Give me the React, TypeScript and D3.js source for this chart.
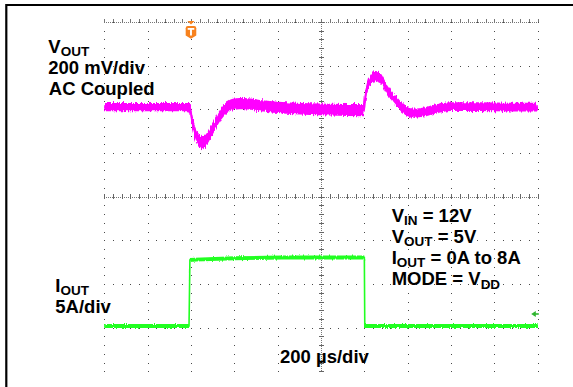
import React from 'react';
import * as d3 from 'd3';

const W = 573;
const H = 387;

// Scope graticule: 10 horizontal divisions (200 µs/div), 8 vertical divisions
const timeDivCount = 10;
const levelDivCount = 8;
const usPerDiv = 200;

// Channel 1: VOUT (AC coupled), 200 mV/div
const vOutTimeUs = [0, 392, 396, 405, 418, 437, 451, 469, 497, 529, 562, 598, 649, 718, 857, 1042, 1198, 1204, 1212, 1231, 1249, 1273, 1305, 1351, 1388, 1429, 1480, 1535, 1595, 1734, 1872, 2000];
const vOutMv = [0, 0, -5, -60, -114, -151, -165, -151, -105, -46, -5, 14, 16, 7, -5, -11, -14, 41, 87, 128, 142, 133, 82, 23, -14, -27, -21, -7, 2, 2, 0, 0];
const vOutNoiseMv = [38, 38, 42, 48, 55, 56, 56, 55, 52, 52, 52, 52, 52, 52, 52, 54, 56, 52, 50, 48, 48, 48, 46, 44, 42, 42, 42, 42, 40, 40, 40, 40];
const vOutMvPerDiv = 200;
const vOutPositionDiv = 2.05;

// Channel 2: IOUT, 5 A/div
const iOutTimeUs = [0, 391, 395, 420, 600, 820, 1200, 1202, 2000];
const iOutAmp = [0, 0, 7.55, 7.6, 7.75, 7.84, 7.84, 0, 0];
const iOutNoiseAmp = [0.45, 0.45, 0.45, 0.45, 0.45, 0.45, 0.45, 0.45, 0.45];
const iOutAmpPerDiv = 5;
const iOutPositionDiv = -2.96;

const triggerTimeUs = 400;

const leftLabels = {
  vout: ['V', 'OUT'],
  voutScale: '200 mV/div',
  voutCoupling: 'AC Coupled',
  iout: ['I', 'OUT'],
  ioutScale: '5A/div',
};
const timeLabel = '200 µs/div';

const MAGENTA = '#ff00ff';
const GREEN = '#22ff22';
const FONT = '"Liberation Sans", Arial, Helvetica, sans-serif';
const BIG = 18.5;
const SUB = 13.5;

export default function App() {
  const xDiv = d3.scaleLinear().domain([0, timeDivCount]).range([104.3, 537.7]);
  const yDiv = d3.scaleLinear().domain([-levelDivCount / 2, levelDivCount / 2]).range([371.4, 22]);
  const xTime = d3.scaleLinear().domain([0, timeDivCount * usPerDiv]).range(xDiv.range());

  const vY = (mv: number) => yDiv(vOutPositionDiv + mv / vOutMvPerDiv);
  const iY = (a: number) => yDiv(iOutPositionDiv + a / iOutAmpPerDiv);

  const vIdx = d3.range(vOutTimeUs.length);
  const iIdx = d3.range(iOutTimeUs.length);

  const vBand = d3.area<number>()
    .x((i) => xTime(vOutTimeUs[i]))
    .y0((i) => vY(vOutMv[i] - vOutNoiseMv[i] / 2))
    .y1((i) => vY(vOutMv[i] + vOutNoiseMv[i] / 2))
    .curve(d3.curveMonotoneX);
  const vLine = d3.line<number>()
    .x((i) => xTime(vOutTimeUs[i]))
    .y((i) => vY(vOutMv[i]))
    .curve(d3.curveMonotoneX);

  const iBand = d3.area<number>()
    .x((i) => xTime(iOutTimeUs[i]))
    .y0((i) => iY(iOutAmp[i] - iOutNoiseAmp[i] / 2))
    .y1((i) => iY(iOutAmp[i] + iOutNoiseAmp[i] / 2));
  const iLine = d3.line<number>()
    .x((i) => xTime(iOutTimeUs[i]))
    .y((i) => iY(iOutAmp[i]));

  const [gx0, gx1] = xDiv.range();
  const [gy1, gy0] = yDiv.range();
  const cx = xDiv(timeDivCount / 2);
  const cy = yDiv(0);

  const minorX = d3.range(0, timeDivCount * 5 + 1).map((k) => k / 5);
  const minorY = d3.range(-levelDivCount * 5 / 2, levelDivCount * 5 / 2 + 1).map((k) => k / 5);

  const dots: JSX.Element[] = [];
  d3.range(0, timeDivCount + 1).forEach((i) => {
    if (i === timeDivCount / 2) return;
    const x = Math.round(xDiv(i));
    minorY.forEach((d, k) => {
      dots.push(<rect key={`v${i}-${k}`} x={x - 0.5} y={Math.round(yDiv(d)) - 0.5} width={1} height={1} fill="#4a4a4a" />);
    });
  });
  d3.range(-levelDivCount / 2 + 1, levelDivCount / 2 + 1).forEach((j) => {
    if (j === 0) return;
    const y = Math.round(yDiv(j));
    minorX.forEach((d, k) => {
      dots.push(<rect key={`h${j}-${k}`} x={Math.round(xDiv(d)) - 0.5} y={y - 0.5} width={1.5} height={1} fill="#4a4a4a" />);
    });
  });

  const ticks: JSX.Element[] = [];
  minorX.forEach((d, k) => {
    const x = Math.round(xDiv(d)) + 0.5;
    ticks.push(<line key={`ct${k}`} x1={x} x2={x} y1={cy - 2.5} y2={cy + 2.5} stroke="#666" strokeWidth={1} />);
    ticks.push(<line key={`bt${k}`} x1={x} x2={x} y1={gy0 - 3} y2={gy0} stroke="#777" strokeWidth={1} />);
  });
  minorY.forEach((d, k) => {
    const y = Math.round(yDiv(d)) + 0.5;
    ticks.push(<line key={`cv${k}`} x1={cx - 2.5} x2={cx + 2.5} y1={y} y2={y} stroke="#666" strokeWidth={1} />);
  });

  const tx = xTime(triggerTimeUs);

  const textStyle: React.CSSProperties = { whiteSpace: 'pre' };

  return (
    <div style={{ position: 'absolute', left: 0, top: 0, width: W, height: H }}>
      <svg width={W} height={H} viewBox={`0 0 ${W} ${H}`} style={{ display: 'block', background: '#fff' }}>
        <defs>
          <filter id="noiseM" x="-2%" y="-30%" width="104%" height="160%">
            <feTurbulence type="fractalNoise" baseFrequency="0.9 0.12" numOctaves={2} seed={4} result="n" />
            <feDisplacementMap in="SourceGraphic" in2="n" scale={5} xChannelSelector="R" yChannelSelector="G" />
          </filter>
          <filter id="noiseG" x="-2%" y="-30%" width="104%" height="160%">
            <feTurbulence type="fractalNoise" baseFrequency="0.9 0.12" numOctaves={2} seed={9} result="n" />
            <feDisplacementMap in="SourceGraphic" in2="n" scale={3} xChannelSelector="R" yChannelSelector="G" />
          </filter>
        </defs>
        <rect x={0} y={0} width={W} height={H} fill="#fff" />
        {/* frame */}
        <path d={`M${W + 5},5 L6.3,5 L6.3,${H + 5}`} fill="none" stroke="#000" strokeWidth={2.2} />

        {/* graticule */}
        <g shapeRendering="crispEdges">
          {dots}
          <line x1={gx0} x2={gx1} y1={Math.round(cy) + 0.5} y2={Math.round(cy) + 0.5} stroke="#777" strokeWidth={1} strokeDasharray="1 1" />
          <line x1={Math.round(cx) + 0.5} x2={Math.round(cx) + 0.5} y1={gy1} y2={gy0} stroke="#777" strokeWidth={1} strokeDasharray="1 1" />
          <line x1={gx0} x2={gx1} y1={Math.round(gy0) + 0.5} y2={Math.round(gy0) + 0.5} stroke="#777" strokeWidth={1} strokeDasharray="1 1" />
          {ticks}
        </g>

        {/* traces */}
        <g filter="url(#noiseG)">
          <path d={iBand(iIdx) || ''} fill={GREEN} />
        </g>
        <path d={iLine(iIdx) || ''} fill="none" stroke={GREEN} strokeWidth={1.6} />
        <g filter="url(#noiseM)">
          <path d={vBand(vIdx) || ''} fill={MAGENTA} />
        </g>
        <path d={vLine(vIdx) || ''} fill="none" stroke={MAGENTA} strokeWidth={2} />

        {/* trigger marker */}
        <path d={`M${tx - 3.6},21 L${tx + 3.6},21 L${tx},24.6 Z`} fill="#f7821e" />
        <path
          d={`M${tx - 5.3},28.2 Q${tx - 5.3},26 ${tx - 3.1},26 L${tx + 3.1},26 Q${tx + 5.3},26 ${tx + 5.3},28.2 L${tx + 5.3},35.6 L${tx},38.8 L${tx - 5.3},35.6 Z`}
          fill="#f7821e"
        />
        <rect x={tx - 3.3} y={28} width={6.6} height={1.8} fill="#fff" />
        <rect x={tx - 0.95} y={28} width={1.9} height={7.5} fill="#fff" />

        {/* ground marker ch2 */}
        <path d="M531.2,314 L535.8,311 L535.8,317 Z" fill="#2fb52f" />
        <line x1={535} x2={538.8} y1={314} y2={314} stroke="#2fb52f" strokeWidth={1.6} />

        {/* labels */}
        <g fontFamily={FONT} fontWeight="bold" fill="#000" fontSize={BIG} style={textStyle}>
          <text x={48.3} y={52.5}>
            <tspan>{leftLabels.vout[0]}</tspan>
            <tspan dy={3.6} fontSize={SUB}>{leftLabels.vout[1]}</tspan>
          </text>
          <text x={48.3} y={74}>{leftLabels.voutScale}</text>
          <text x={48.8} y={94.5}>{leftLabels.voutCoupling}</text>

          <text x={55.3} y={291.5}>
            <tspan>{leftLabels.iout[0]}</tspan>
            <tspan dy={3.6} fontSize={SUB}>{leftLabels.iout[1]}</tspan>
          </text>
          <text x={55.3} y={312.5}>{leftLabels.ioutScale}</text>

          <text x={391.7} y={221.7}>
            <tspan>V</tspan>
            <tspan dy={3.6} fontSize={SUB}>IN</tspan>
            <tspan dy={-3.6}>{' = 12V'}</tspan>
          </text>
          <text x={391.7} y={242.7}>
            <tspan>V</tspan>
            <tspan dy={3.6} fontSize={SUB}>OUT</tspan>
            <tspan dy={-3.6}>{' = 5V'}</tspan>
          </text>
          <text x={391.7} y={263.5}>
            <tspan>I</tspan>
            <tspan dy={3.6} fontSize={SUB}>OUT</tspan>
            <tspan dy={-3.6}>{' = 0A to 8A'}</tspan>
          </text>
          <text x={391.7} y={285}>
            <tspan>{'MODE = V'}</tspan>
            <tspan dy={3.6} fontSize={SUB}>DD</tspan>
          </text>

          <text x={280} y={363.3}>{timeLabel}</text>
        </g>
      </svg>
    </div>
  );
}
